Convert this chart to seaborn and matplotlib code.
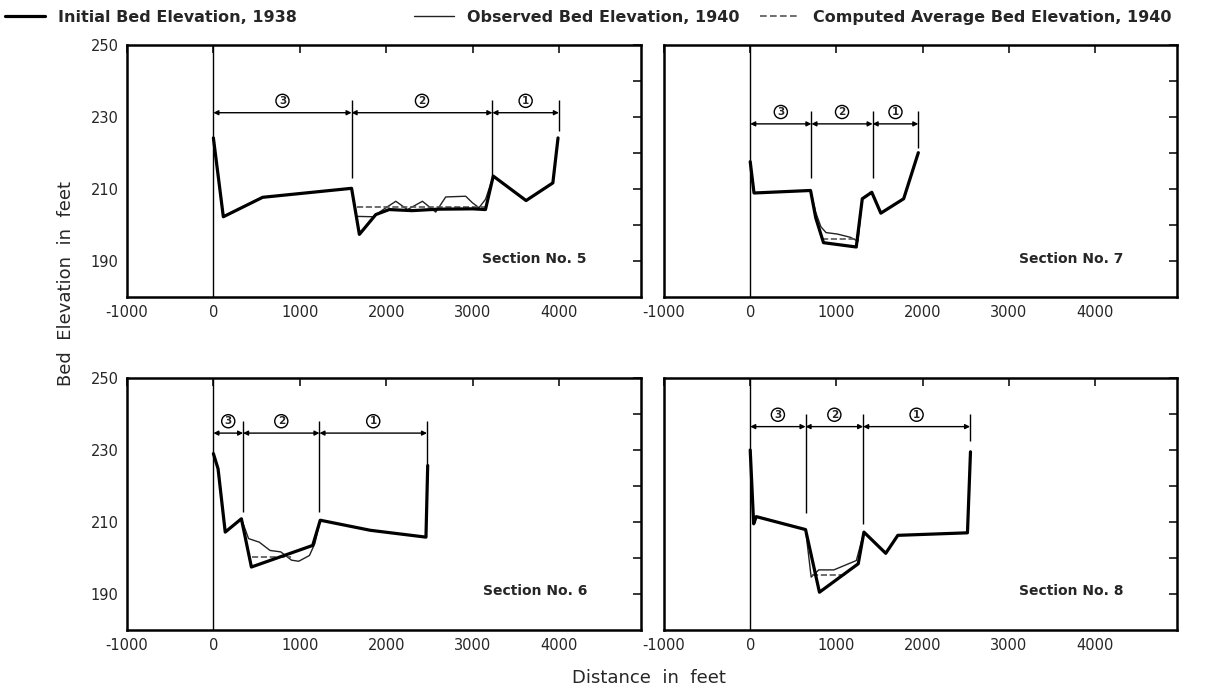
import matplotlib
matplotlib.use("Agg")
import matplotlib.pyplot as plt
import pandas as pd
import seaborn as sns
from matplotlib.lines import Line2D

# ---- Section No. 5 ----
s5_init_x = [0, 115, 570, 1600, 1690, 1880, 2035, 2300, 2600, 3000, 3150, 3240, 3620, 3930, 3990]
s5_init_y = [224.2, 202.3, 207.7, 210.2, 197.4, 202.9, 204.3, 204.0, 204.4, 204.5, 204.3, 213.6, 206.8, 211.7, 224.2]
s5_obs_x = [1665, 1850, 1966, 2112, 2247, 2420, 2574, 2690, 2921, 2998, 3075, 3152, 3240]
s5_obs_y = [202.4, 202.3, 204.3, 206.6, 204.3, 206.6, 203.6, 207.8, 208.0, 206.2, 204.8, 207.2, 213.6]
s5_avg_x = [1665, 3150]
s5_avg_y = [205.0, 205.0]
s5_reach = [0, 1600, 3230, 4000]
s5_reach_bottom = [213.0, 213.0, 226.0]
s5_arrow_y = 231.2

# ---- Section No. 7 ----
s7_init_x = [0, 44, 700, 760, 850, 1230, 1300, 1410, 1515, 1780, 1950]
s7_init_y = [217.6, 208.9, 209.6, 202.0, 195.1, 193.9, 207.3, 209.1, 203.3, 207.3, 220.1]
s7_obs_x = [700, 760, 820, 880, 1010, 1160, 1250, 1300]
s7_obs_y = [209.6, 203.5, 199.5, 197.9, 197.5, 196.6, 195.5, 207.3]
s7_avg_x = [830, 1240]
s7_avg_y = [196.2, 196.2]
s7_reach = [0, 710, 1420, 1950]
s7_reach_bottom = [213.0, 213.0, 221.5]
s7_arrow_y = 228.1

# ---- Section No. 6 ----
s6_init_x = [0, 54, 137, 324, 440, 1150, 1237, 1817, 2461, 2481]
s6_init_y = [229.0, 224.8, 207.2, 210.9, 197.5, 203.5, 210.5, 207.7, 205.8, 225.7]
s6_obs_x = [324, 407, 531, 656, 780, 905, 988, 1112, 1174, 1237]
s6_obs_y = [210.9, 205.4, 204.4, 202.1, 201.7, 199.4, 199.1, 200.7, 204.0, 210.5]
s6_avg_x = [450, 900]
s6_avg_y = [200.2, 200.2]
s6_reach = [0, 344, 1228, 2473]
s6_reach_bottom = [212.8, 212.8, 226.0]
s6_arrow_y = 234.7

# ---- Section No. 8 ----
s8_init_x = [0, 40, 70, 642, 803, 1253, 1319, 1572, 1712, 2520, 2555]
s8_init_y = [230.0, 209.5, 211.5, 207.9, 190.5, 198.4, 207.2, 201.3, 206.3, 207.0, 229.5]
s8_obs_x = [642, 707, 795, 970, 1231, 1319]
s8_obs_y = [207.9, 194.7, 196.7, 196.7, 199.3, 207.2]
s8_avg_x = [720, 1100]
s8_avg_y = [195.2, 195.2]
s8_reach = [0, 642, 1310, 2550]
s8_reach_bottom = [212.5, 209.5, 232.5]
s8_arrow_y = 236.5

reach_names = ['3', '2', '1']
x_ticks = [-1000, 0, 1000, 2000, 3000, 4000]
y_ticks = [190, 200, 210, 220, 230, 240, 250]
y_ticklabels = ['190', '', '210', '', '230', '', '250']

sections = [
    ('Section No. 5', s5_init_x, s5_init_y, s5_obs_x, s5_obs_y, s5_avg_x, s5_avg_y, s5_reach, s5_reach_bottom, s5_arrow_y),
    ('Section No. 7', s7_init_x, s7_init_y, s7_obs_x, s7_obs_y, s7_avg_x, s7_avg_y, s7_reach, s7_reach_bottom, s7_arrow_y),
    ('Section No. 6', s6_init_x, s6_init_y, s6_obs_x, s6_obs_y, s6_avg_x, s6_avg_y, s6_reach, s6_reach_bottom, s6_arrow_y),
    ('Section No. 8', s8_init_x, s8_init_y, s8_obs_x, s8_obs_y, s8_avg_x, s8_avg_y, s8_reach, s8_reach_bottom, s8_arrow_y),
]

sns.set_style("white")
plt.rcParams['font.family'] = ['DejaVu Sans']
plt.rcParams['axes.unicode_minus'] = False

fig = plt.figure(figsize=(12.26, 6.94), dpi=100)
positions = [
    [0.1036, 0.572, 0.4192, 0.3631],
    [0.5416, 0.572, 0.4184, 0.3631],
    [0.1036, 0.0922, 0.4192, 0.3631],
    [0.5416, 0.0922, 0.4184, 0.3631],
]

for i, (name, ix, iy, ox, oy, ax_x, ax_y, reach, reach_bot, arrow_y) in enumerate(sections):
    ax = fig.add_axes(positions[i])
    sns.lineplot(x=ox, y=oy, sort=False, estimator=None, ax=ax, color='#222222', linewidth=1.0)
    sns.lineplot(x=ax_x, y=ax_y, sort=False, estimator=None, ax=ax, color='#555555',
                 linewidth=1.2, linestyle='--', dashes=(4, 2))
    sns.lineplot(x=ix, y=iy, sort=False, estimator=None, ax=ax, color='black', linewidth=2.3)
    ax.axvline(0, color='black', linewidth=1.0)

    # reach arrows, dividers and circled reach numbers
    for k in range(len(reach) - 1):
        ax.annotate('', xy=(reach[k + 1], arrow_y), xytext=(reach[k], arrow_y),
                    arrowprops=dict(arrowstyle='<|-|>', color='black', lw=1.0,
                                    mutation_scale=7, shrinkA=0, shrinkB=0))
        ax.vlines(reach[k + 1], reach_bot[k], arrow_y + 3.5, color='black', linewidth=1.0)
        ax.text((reach[k] + reach[k + 1]) / 2, arrow_y + 3.3, reach_names[k],
                ha='center', va='center', fontsize=7.5, fontweight='bold',
                bbox=dict(boxstyle='circle,pad=0.15', fc='white', ec='black', lw=1.0))

    ax.text(3720, 190.7, name, ha='center', va='center', fontsize=10, fontweight='bold')

    ax.set_xlim(-1000, 4950)
    ax.set_ylim(180, 250)
    ax.set_xticks(x_ticks)
    ax.set_xticklabels([str(t) for t in x_ticks])
    ax.set_yticks(y_ticks)
    ax.set_yticklabels(y_ticklabels)
    ax.tick_params(direction='in', top=True, right=True, length=6, width=1.3,
                   labelsize=10.5, pad=6)
    if i % 2 == 1:
        ax.tick_params(labelleft=False)
    for sp in ax.spines.values():
        sp.set_linewidth(1.8)
        sp.set_color('black')
    ax.set_xlabel('')
    ax.set_ylabel('')

fig.text(0.054, 0.592, 'Bed  Elevation  in  feet', rotation=90, ha='center', va='center', fontsize=13)
fig.text(0.529, 0.023, 'Distance  in  feet', ha='center', va='center', fontsize=13)

# legend: three entries placed along the top edge
legend_items = [
    (Line2D([], [], color='black', linewidth=2.3), 'Initial Bed Elevation, 1938', 0.004),
    (Line2D([], [], color='#222222', linewidth=1.0), 'Observed Bed Elevation, 1940', 0.338),
    (Line2D([], [], color='#555555', linewidth=1.2, linestyle='--', dashes=(4, 2)),
     'Computed Average Bed Elevation, 1940', 0.620),
]
for handle, label, x0 in legend_items:
    leg = fig.legend([handle], [label], loc='upper left', bbox_to_anchor=(x0, 0.986),
                     frameon=False, handlelength=2.5, handletextpad=0.8,
                     borderaxespad=0, borderpad=0, prop={'size': 11.5, 'weight': 'bold'})

fig.savefig('out.png', dpi=100)
